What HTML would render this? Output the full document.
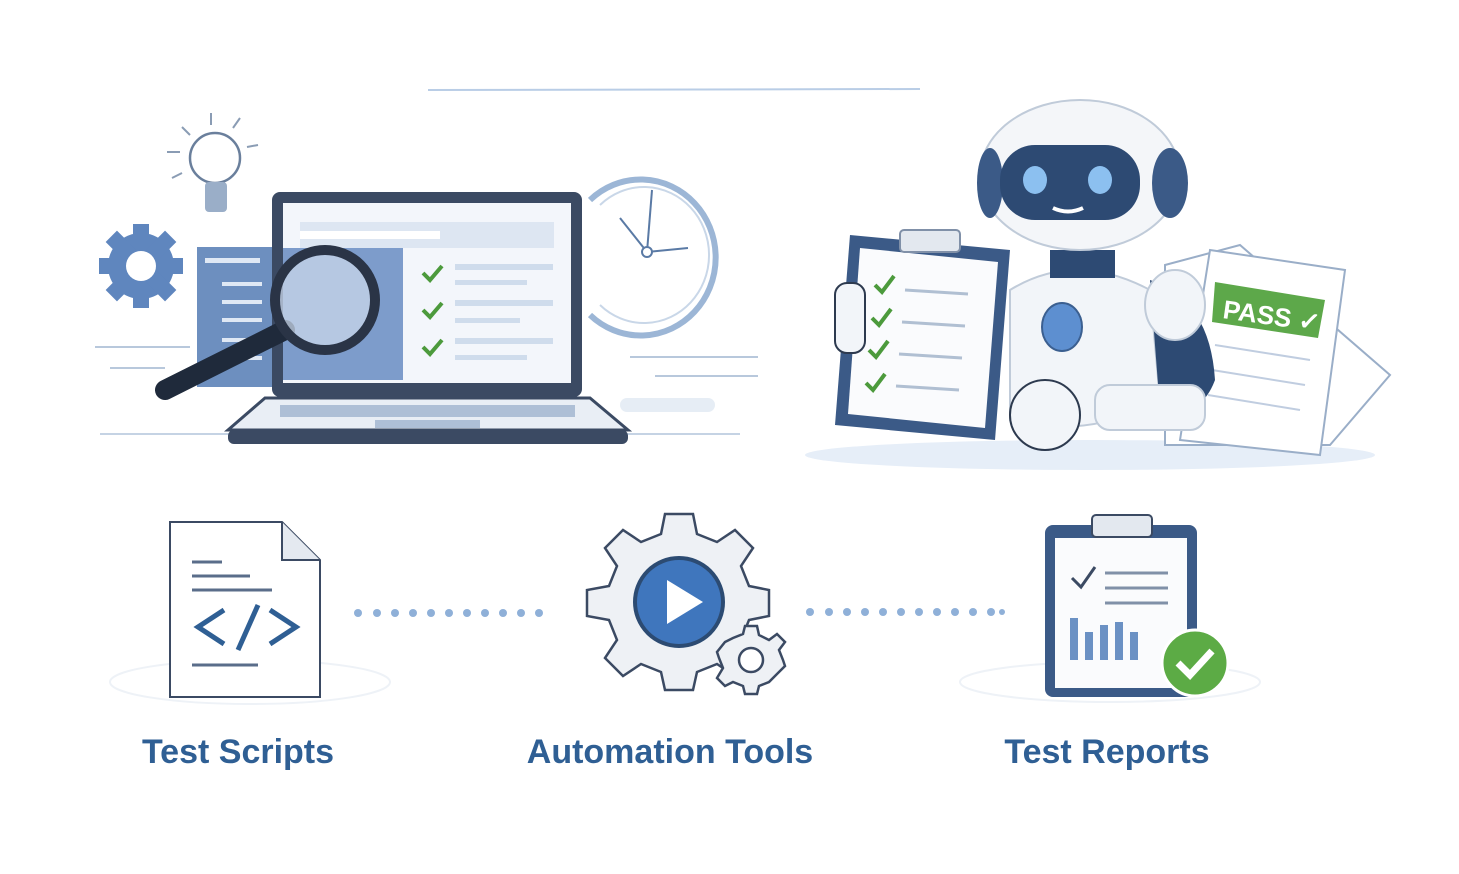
<!DOCTYPE html>
<html><head><meta charset="utf-8"><style>
html,body{margin:0;padding:0;background:#fff;}
svg{display:block}
text{font-family:"Liberation Sans",sans-serif;font-weight:bold;fill:#2f5f94}
</style></head><body>
<svg width="1459" height="874" viewBox="0 0 1459 874" xmlns="http://www.w3.org/2000/svg">
<line x1="428" y1="90" x2="920" y2="89" stroke="#b9cde6" stroke-width="2"/>
<line x1="95" y1="347" x2="190" y2="347" stroke="#b8c8dc" stroke-width="2"/>
<line x1="110" y1="368" x2="165" y2="368" stroke="#b8c8dc" stroke-width="2"/>
<line x1="100" y1="434" x2="740" y2="434" stroke="#c5d3e4" stroke-width="2"/>
<line x1="630" y1="357" x2="758" y2="357" stroke="#b8c8dc" stroke-width="2"/>
<line x1="655" y1="376" x2="758" y2="376" stroke="#b8c8dc" stroke-width="2"/>
<rect x="620" y="398" width="95" height="14" rx="7" fill="#e6edf5"/>
<path d="M590 200 A75 78 0 1 1 590 315" fill="none" stroke="#9cb6d6" stroke-width="6"/>
<path d="M600 205 A65 68 0 1 1 600 305" fill="#fff" stroke="#c9d7e8" stroke-width="2"/>
<line x1="647" y1="252" x2="652" y2="190" stroke="#5a7aa5" stroke-width="2"/>
<line x1="647" y1="252" x2="620" y2="218" stroke="#5a7aa5" stroke-width="2"/>
<line x1="647" y1="252" x2="688" y2="248" stroke="#5a7aa5" stroke-width="2"/>
<circle cx="647" cy="252" r="5" fill="#fff" stroke="#5a7aa5" stroke-width="2"/>
<circle cx="215" cy="158" r="25" fill="#fff" stroke="#6a7f9c" stroke-width="2.5"/>
<rect x="205" y="182" width="22" height="30" rx="4" fill="#9aaec8"/>
<g stroke="#8a9cb4" stroke-width="2"><line x1="211" y1="113" x2="211" y2="125"/><line x1="182" y1="127" x2="190" y2="135"/><line x1="240" y1="118" x2="233" y2="128"/><line x1="167" y1="152" x2="180" y2="152"/><line x1="247" y1="147" x2="258" y2="145"/><line x1="172" y1="178" x2="182" y2="173"/></g>
<g transform="translate(141,266)" fill="#5f86be">
<circle r="33"/>
<g><rect x="-8" y="-42" width="16" height="84"/><rect x="-8" y="-42" width="16" height="84" transform="rotate(45)"/><rect x="-8" y="-42" width="16" height="84" transform="rotate(90)"/><rect x="-8" y="-42" width="16" height="84" transform="rotate(135)"/></g>
<circle r="15" fill="#fff"/></g>
<rect x="197" y="247" width="85" height="140" fill="#6d8fbf"/>
<g fill="#dfe8f4"><rect x="205" y="258" width="55" height="5"/><rect x="222" y="282" width="40" height="4"/><rect x="222" y="300" width="40" height="4"/><rect x="222" y="318" width="40" height="4"/><rect x="222" y="338" width="40" height="4"/><rect x="222" y="356" width="40" height="4"/></g>
<rect x="272" y="192" width="310" height="205" rx="8" fill="#3b4a63"/>
<rect x="283" y="203" width="288" height="180" fill="#f3f6fb"/>
<rect x="300" y="222" width="254" height="26" fill="#dde6f2"/>
<rect x="300" y="231" width="140" height="8" fill="#fff"/>
<rect x="283" y="248" width="120" height="132" fill="#7d9ccb"/>
<g stroke="#4c9a3c" stroke-width="4" fill="none"><path d="M423 273l7 7 12-14"/><path d="M423 310l7 7 12-14"/><path d="M423 347l7 7 12-14"/></g>
<g fill="#cfdcec"><rect x="455" y="264" width="98" height="6"/><rect x="455" y="280" width="72" height="5"/><rect x="455" y="300" width="98" height="6"/><rect x="455" y="318" width="65" height="5"/><rect x="455" y="338" width="98" height="6"/><rect x="455" y="355" width="72" height="5"/></g>
<path d="M228 430 L265 398 L590 398 L628 430 Z" fill="#e9eef5" stroke="#3b4a63" stroke-width="3"/>
<rect x="228" y="430" width="400" height="14" rx="6" fill="#3b4a63"/>
<rect x="280" y="405" width="295" height="12" fill="#aebfd6"/>
<rect x="375" y="420" width="105" height="8" fill="#aebfd6"/>
<line x1="165" y1="390" x2="285" y2="330" stroke="#1f2a3b" stroke-width="20" stroke-linecap="round"/>
<circle cx="325" cy="300" r="50" fill="#c9d7ea" fill-opacity="0.75" stroke="#2a3446" stroke-width="10"/>
<ellipse cx="1090" cy="455" rx="285" ry="15" fill="#e6eef8"/>
<polygon points="1165,265 1240,245 1390,375 1330,445 1165,445" fill="#fff" stroke="#9aaec8" stroke-width="2"/>
<polygon points="1210,250 1345,270 1320,455 1180,440" fill="#fff" stroke="#9aaec8" stroke-width="2"/>
<polygon points="1215,282 1325,300 1318,338 1212,322" fill="#5da84a"/>
<text x="1222" y="318" font-size="26" style="fill:#fff" transform="rotate(8 1222 318)">PASS ✓</text>
<g stroke="#c0cde0" stroke-width="2"><line x1="1215" y1="345" x2="1310" y2="360"/><line x1="1212" y1="370" x2="1305" y2="385"/><line x1="1208" y1="395" x2="1300" y2="410"/></g>
<path d="M1010 290 Q1075 250 1150 290 L1160 400 Q1090 440 1010 420 Z" fill="#f2f5f9" stroke="#c0cbd9" stroke-width="2"/>
<ellipse cx="1062" cy="327" rx="20" ry="24" fill="#5d8fd0" stroke="#3b5f90" stroke-width="2"/>
<rect x="1050" y="250" width="65" height="28" fill="#2d4a73"/>
<path d="M1150 280 Q1210 300 1215 380 Q1200 420 1160 410 Z" fill="#2d4a73"/>
<ellipse cx="1175" cy="305" rx="30" ry="35" fill="#f2f5f9" stroke="#c0cbd9" stroke-width="2"/>
<rect x="1095" y="385" width="110" height="45" rx="15" fill="#f2f5f9" stroke="#c0cbd9" stroke-width="2"/>
<circle cx="1045" cy="415" r="35" fill="#f2f5f9" stroke="#2d3a4f" stroke-width="2"/>
<ellipse cx="1080" cy="175" rx="100" ry="75" fill="#f4f6f9" stroke="#c0cbd9" stroke-width="2"/>
<ellipse cx="990" cy="183" rx="13" ry="35" fill="#3b5a87"/>
<ellipse cx="1170" cy="183" rx="18" ry="35" fill="#3b5a87"/>
<rect x="1000" y="145" width="140" height="75" rx="35" fill="#2d4a73"/>
<ellipse cx="1035" cy="180" rx="12" ry="14" fill="#8cc0f0"/>
<ellipse cx="1100" cy="180" rx="12" ry="14" fill="#8cc0f0"/>
<path d="M1053 208 Q1068 215 1083 208" stroke="#fff" stroke-width="4" fill="none"/>
<polygon points="850,235 1010,250 995,440 835,425" fill="#3b5a87"/>
<polygon points="860,248 998,262 985,428 848,414" fill="#fafbfd"/>
<rect x="900" y="230" width="60" height="22" rx="4" fill="#e3e8ef" stroke="#8090a8" stroke-width="2"/>
<g stroke="#4c9a3c" stroke-width="4" fill="none"><path d="M875 285l7 7 12-16"/><path d="M872 318l7 7 12-16"/><path d="M869 350l7 7 12-16"/><path d="M866 383l7 7 12-16"/></g>
<g stroke="#b0bfd2" stroke-width="3"><line x1="905" y1="290" x2="968" y2="294"/><line x1="902" y1="322" x2="965" y2="326"/><line x1="899" y1="354" x2="962" y2="358"/><line x1="896" y1="386" x2="959" y2="390"/></g>
<rect x="835" y="283" width="30" height="70" rx="12" fill="#f2f5f9" stroke="#2d3a4f" stroke-width="2"/>
<ellipse cx="250" cy="682" rx="140" ry="22" fill="none" stroke="#eef2f7" stroke-width="2"/>
<path d="M170 522 L282 522 L320 560 L320 697 L170 697 Z" fill="#fff" stroke="#3b4a63" stroke-width="2"/>
<path d="M282 522 L282 560 L320 560" fill="#e4e9f0" stroke="#3b4a63" stroke-width="2"/>
<g stroke="#5a6d8a" stroke-width="3"><line x1="192" y1="562" x2="222" y2="562"/><line x1="192" y1="576" x2="250" y2="576"/><line x1="192" y1="590" x2="272" y2="590"/><line x1="192" y1="665" x2="258" y2="665"/></g>
<g stroke="#2f5f94" stroke-width="5" fill="none"><path d="M224 610 L198 627 L224 644"/><path d="M258 605 L238 650"/><path d="M270 610 L296 627 L270 644"/></g>
<g fill="#8fb0d8">
<circle cx="358" cy="613" r="4"/><circle cx="377" cy="613" r="4"/><circle cx="395" cy="613" r="4"/><circle cx="413" cy="613" r="4"/><circle cx="431" cy="613" r="4"/><circle cx="449" cy="613" r="4"/><circle cx="467" cy="613" r="4"/><circle cx="485" cy="613" r="4"/><circle cx="503" cy="613" r="4"/><circle cx="521" cy="613" r="4"/><circle cx="539" cy="613" r="4"/>
<circle cx="810" cy="612" r="4"/><circle cx="829" cy="612" r="4"/><circle cx="847" cy="612" r="4"/><circle cx="865" cy="612" r="4"/><circle cx="883" cy="612" r="4"/><circle cx="901" cy="612" r="4"/><circle cx="919" cy="612" r="4"/><circle cx="937" cy="612" r="4"/><circle cx="955" cy="612" r="4"/><circle cx="973" cy="612" r="4"/><circle cx="991" cy="612" r="4"/><circle cx="1002" cy="612" r="3"/>
</g>
<g transform="translate(679,602)" fill="#eef1f5" stroke="#3b4a63" stroke-width="2.5">
<path d="M-14,-88 L14,-88 L18,-68 L38,-60 L56,-72 L74,-54 L62,-36 L70,-16 L90,-12 L90,14 L70,18 L62,38 L74,56 L56,74 L38,62 L18,70 L14,88 L-14,88 L-18,70 L-38,62 L-56,74 L-74,56 L-62,38 L-70,18 L-92,14 L-92,-12 L-70,-16 L-62,-36 L-74,-54 L-56,-72 L-38,-60 L-18,-68 Z"/>
<circle r="44" fill="#3f76bd" stroke="#2c4b72" stroke-width="4"/>
<path d="M-12,-22 L24,0 L-12,22 Z" fill="#fff" stroke="none"/>
</g>
<g transform="translate(751,660)" fill="#eef1f5" stroke="#3b4a63" stroke-width="2.5">
<path d="M-6,-34 L6,-34 L8,-25 L18,-20 L26,-26 L34,-18 L28,-10 L32,0 L34,6 L26,14 L18,22 L8,26 L6,34 L-6,34 L-8,26 L-18,22 L-26,26 L-34,18 L-28,8 L-32,-2 L-34,-8 L-26,-18 L-18,-22 L-8,-26 Z"/>
<circle r="12" fill="#fff"/>
</g>
<ellipse cx="1110" cy="682" rx="150" ry="20" fill="none" stroke="#eef2f7" stroke-width="2"/>
<rect x="1045" y="525" width="152" height="172" rx="8" fill="#3b5a87"/>
<rect x="1055" y="538" width="132" height="150" fill="#fafbfd"/>
<rect x="1092" y="515" width="60" height="22" rx="4" fill="#e3e8ef" stroke="#3b4a63" stroke-width="2"/>
<path d="M1072 578l9 9 14-20" stroke="#3b4a63" stroke-width="3" fill="none"/>
<g stroke="#8090a8" stroke-width="3"><line x1="1105" y1="573" x2="1168" y2="573"/><line x1="1105" y1="588" x2="1168" y2="588"/><line x1="1105" y1="603" x2="1168" y2="603"/></g>
<g fill="#6b91c4"><rect x="1070" y="618" width="8" height="42"/><rect x="1085" y="632" width="8" height="28"/><rect x="1100" y="625" width="8" height="35"/><rect x="1115" y="622" width="8" height="38"/><rect x="1130" y="632" width="8" height="28"/></g>
<circle cx="1195" cy="663" r="33" fill="#5cab45" stroke="#fff" stroke-width="3"/>
<path d="M1178 663l12 12 22-24" stroke="#fff" stroke-width="7" fill="none"/>
<text x="238" y="763" font-size="34" text-anchor="middle">Test Scripts</text>
<text x="670" y="763" font-size="34" text-anchor="middle">Automation Tools</text>
<text x="1107" y="763" font-size="34" text-anchor="middle">Test Reports</text>
</svg>
</body></html>
